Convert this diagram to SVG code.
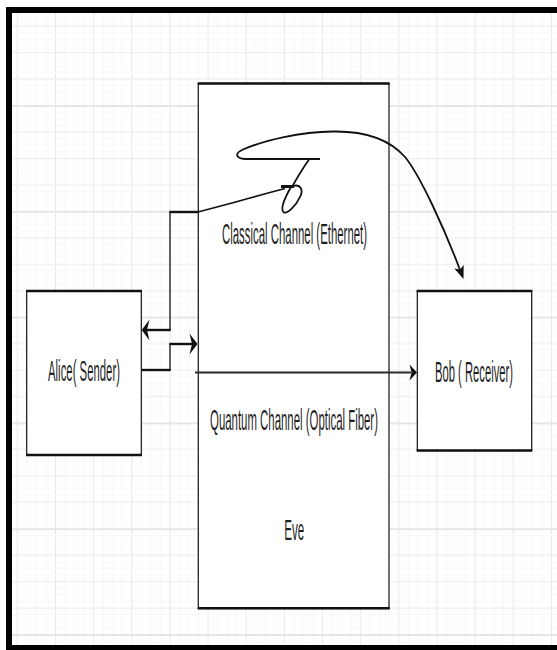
<svg xmlns="http://www.w3.org/2000/svg" width="557" height="650" viewBox="0 0 557 650">
  <defs>
    <pattern id="gridV" patternUnits="userSpaceOnUse" x="55" y="0" width="38.15" height="10">
      <rect x="0" y="0" width="1" height="10" fill="#e6e6e6"/>
      <rect x="9.54" y="0" width="1" height="10" fill="#f7f7f7"/>
      <rect x="19.08" y="0" width="1" height="10" fill="#f7f7f7"/>
      <rect x="28.61" y="0" width="1" height="10" fill="#f7f7f7"/>
    </pattern>
    <pattern id="gridH" patternUnits="userSpaceOnUse" x="0" y="105" width="10" height="105.8">
      <rect x="0" y="0" width="10" height="2" fill="#e6e6e6"/>
      <rect x="0" y="26.45" width="10" height="1.2" fill="#eeeeee"/>
      <rect x="0" y="52.9" width="10" height="1.2" fill="#eeeeee"/>
      <rect x="0" y="79.35" width="10" height="1.2" fill="#eeeeee"/>
      <rect x="0" y="6.6" width="10" height="1" fill="#f8f8f8"/>
      <rect x="0" y="13.2" width="10" height="1" fill="#f8f8f8"/>
      <rect x="0" y="19.8" width="10" height="1" fill="#f8f8f8"/>
      <rect x="0" y="33.05" width="10" height="1" fill="#f8f8f8"/>
      <rect x="0" y="39.65" width="10" height="1" fill="#f8f8f8"/>
      <rect x="0" y="46.25" width="10" height="1" fill="#f8f8f8"/>
      <rect x="0" y="59.5" width="10" height="1" fill="#f8f8f8"/>
      <rect x="0" y="66.1" width="10" height="1" fill="#f8f8f8"/>
      <rect x="0" y="72.7" width="10" height="1" fill="#f8f8f8"/>
      <rect x="0" y="85.95" width="10" height="1" fill="#f8f8f8"/>
      <rect x="0" y="92.55" width="10" height="1" fill="#f8f8f8"/>
      <rect x="0" y="99.15" width="10" height="1" fill="#f8f8f8"/>
    </pattern>
  </defs>
  <style>
    .box { fill: #ffffff; stroke: #111111; stroke-width: 1.2; }
    .edge { stroke: #111111; stroke-width: 2.4; fill: none; }
    .lbl { font-family: "Liberation Sans", Arial, sans-serif; font-size: 30px; fill: #1f1f1f; text-anchor: middle; }
    .ln { stroke: #111111; fill: none; stroke-linecap: butt; }
    .h { stroke-width: 2.4; }
    .v { stroke-width: 1.3; }
    .sk { stroke-width: 1.8; stroke-linejoin: round; }
    .ah { fill: #111111; }
  </style>

  <!-- background and grid -->
  <rect x="0" y="0" width="557" height="650" fill="#ffffff"/>
  <rect x="12" y="13" width="545" height="632" fill="url(#gridV)"/>
  <rect x="12" y="13" width="545" height="632" fill="url(#gridH)"/>

  <!-- frame -->
  <g id="frame" fill="#000000">
    <rect x="6" y="7" width="551" height="6"/>
    <rect x="6" y="7" width="6" height="643"/>
    <rect x="6" y="645" width="551" height="5"/>
  </g>

  <!-- Eve / channel node -->
  <g id="eve">
    <rect class="box" x="198.3" y="83.5" width="190.7" height="525"/>
    <line class="edge" x1="197.7" y1="83.5" x2="389.6" y2="83.5"/>
    <line class="edge" x1="197.7" y1="608.3" x2="389.6" y2="608.3"/>
    <text class="lbl" transform="translate(294.5,244) scale(0.38,1)">Classical Channel (Ethernet)</text>
    <text class="lbl" transform="translate(294,429.5) scale(0.38,1)">Quantum Channel (Optical Fiber)</text>
    <text class="lbl" transform="translate(294.2,540) scale(0.387,1)">Eve</text>
  </g>

  <!-- Alice node -->
  <g id="alice">
    <rect class="box" x="26.7" y="291" width="114.6" height="164"/>
    <line class="edge" x1="26.1" y1="291" x2="141.9" y2="291"/>
    <line class="edge" x1="26.1" y1="455" x2="141.9" y2="455"/>
    <text class="lbl" transform="translate(84,381) scale(0.379,1)">Alice( Sender)</text>
  </g>

  <!-- Bob node -->
  <g id="bob">
    <rect class="box" x="417.3" y="291" width="114.4" height="159.5"/>
    <line class="edge" x1="416.7" y1="291" x2="532.3" y2="291"/>
    <line class="edge" x1="416.7" y1="450.5" x2="532.3" y2="450.5"/>
    <text class="lbl" transform="translate(474,381.5) scale(0.375,1)">Bob ( Receiver)</text>
  </g>

  <!-- connectors -->
  <g id="connectors">
    <!-- Alice to channel (right arrow) -->
    <line class="ln h" x1="141.3" y1="370" x2="170.6" y2="370"/>
    <line class="ln v" x1="170" y1="370.5" x2="170" y2="343.5"/>
    <line class="ln h" x1="169.4" y1="344" x2="192" y2="344"/>
    <polygon class="ah" points="197.5,344 189.5,333.5 192,344 189.5,354.5"/>

    <!-- classical (sketchy) path back to Alice (left arrow) -->
    <line class="ln h" x1="147" y1="330" x2="170.6" y2="330"/>
    <line class="ln v" x1="170" y1="330.5" x2="170" y2="211.4"/>
    <line class="ln h" x1="169.4" y1="212" x2="199" y2="212"/>
    <polygon class="ah" points="141.7,330 149.5,319.5 147,330 149.5,340.5"/>
    <path class="ln sk" d="M 198 212 L 215 207.5 L 232 203 L 250 198 L 268 193 L 285 188.5"/>
    <line class="ln" stroke-width="3" x1="281" y1="186.5" x2="294" y2="186.5"/>
    <path class="ln sk" d="M 291 187 C 287 194, 280 206, 283 211.5 C 286 216, 296 206, 300.5 196 C 303.5 189, 300 184, 293 186"/>
    <path class="ln sk" d="M 292 187 C 297 178, 303 168, 309 159.5"/>
    <path class="ln sk" d="M 320 159 H 245 C 236 158.5, 234 153.5, 243 149.5 C 265 140, 300 132, 333 131.5 C 365 131, 390 140, 405 157 C 420 175, 445 230, 460 270"/>
    <polygon class="ah" points="463.5,279 463.7,265 460,269.6 454.3,268.5"/>

    <!-- quantum channel to Bob -->
    <line x1="195" y1="372.5" x2="411" y2="372.5" stroke="#2a2a2a" stroke-width="2.2"/>
    <polygon class="ah" points="417,372.5 409.5,364.5 411.5,372.5 409.5,380.5"/>
  </g>
</svg>
